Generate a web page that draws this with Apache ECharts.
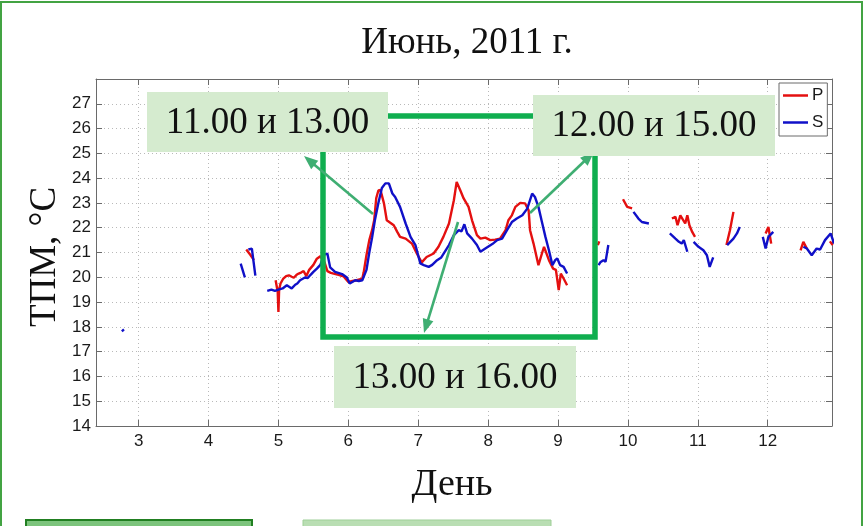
<!DOCTYPE html>
<html>
<head>
<meta charset="utf-8">
<script src="https://cdn.jsdelivr.net/npm/echarts@6/dist/echarts.min.js"></script>
<style>
  html, body { margin: 0; padding: 0; background: #ffffff; }
  #chart { width: 864px; height: 526px; }
</style>
</head>
<body>
<div id="chart"></div>
<script>
// Tick positions of the two axes
const dayTicks = [3, 4, 5, 6, 7, 8, 9, 10, 11, 12];
const tempTicks = [14, 15, 16, 17, 18, 19, 20, 21, 22, 23, 24, 25, 26, 27];

// Series P (red): day of month and temperature; null temperature = gap in record
const pDays = [
  4.54, 4.60, 4.65, 4.80,
  4.96, 4.99, 5.00, 5.01, 5.03, 5.07, 5.11, 5.15, 5.19, 5.22, 5.26, 5.29, 5.33, 5.36, 5.40, 5.44,
  5.50, 5.55, 5.60, 5.66, 5.70, 5.75, 5.79, 5.86, 5.93, 6.00, 6.06, 6.12, 6.20, 6.22, 6.26, 6.30,
  6.34, 6.37, 6.40, 6.43, 6.46, 6.51, 6.55, 6.60, 6.65, 6.70, 6.74, 6.82, 6.91, 6.98, 7.05, 7.12,
  7.22, 7.29, 7.36, 7.44, 7.51, 7.55, 7.60, 7.65, 7.72, 7.77, 7.84, 7.89, 7.96, 8.03, 8.10, 8.17,
  8.25, 8.29, 8.34, 8.39, 8.46, 8.53, 8.58, 8.60, 8.65, 8.72, 8.77, 8.80, 8.87, 8.93, 8.97, 9.01,
  9.04, 9.08, 9.13, 9.30,
  9.57, 9.59, 9.75,
  9.93, 9.99, 10.06, 10.30,
  10.63, 10.68, 10.71, 10.75, 10.82, 10.85, 10.88, 10.92, 10.96, 11.20,
  11.41, 11.46, 11.51, 11.70,
  11.97, 12.01, 12.05, 12.30,
  12.47, 12.51, 12.56, 12.70,
  12.89, 12.93
];
const pTemps = [
  21.12, 20.90, 20.69, null,
  19.88, 19.40, 18.60, 19.50, 19.75, 19.95, 20.05, 20.08, 20.02, 19.98, 20.10, 20.15, 20.20, 20.25, 20.05, 20.30,
  20.50, 20.75, 20.85, 20.60, 20.25, 20.18, 20.15, 20.10, 20.04, 19.81, 19.85, 19.88, 19.95, 20.20, 20.90, 21.50,
  21.90, 22.30, 23.20, 23.50, 23.52, 22.98, 22.30, 22.20, 22.10, 21.83, 21.63, 21.56, 21.36, 20.96, 20.60, 20.82,
  20.96, 21.23, 21.63, 22.17, 23.11, 23.85, 23.52, 23.18, 22.84, 22.30, 21.70, 21.56, 21.60, 21.50, 21.52, 21.56,
  21.90, 22.30, 22.50, 22.84, 23.00, 22.98, 22.70, 21.90, 21.36, 20.49, 20.96, 21.23, 20.69, 20.35, 20.30, 19.48,
  20.15, 19.95, 19.68, null,
  21.30, 21.45, null,
  23.15, 22.84, 22.78, null,
  22.37, 22.44, 22.10, 22.50, 22.17, 22.50, 22.10, 21.83, 21.63, null,
  21.30, 21.90, 22.64, null,
  21.77, 22.03, 21.36, null,
  21.09, 21.43, 21.16, null,
  21.45, 21.30
];

// Series S (blue)
const sDays = [
  2.76, 2.79, 3.50,
  4.46, 4.52, 4.55,
  4.57, 4.62, 4.67, 4.75,
  4.84, 4.90, 4.95, 5.00, 5.06, 5.12, 5.19, 5.24, 5.27, 5.31, 5.38, 5.42, 5.46, 5.50, 5.55, 5.60,
  5.65, 5.70, 5.74, 5.81, 5.91, 5.98, 6.02, 6.10, 6.15, 6.20, 6.22, 6.26, 6.30, 6.34, 6.38, 6.43,
  6.48, 6.53, 6.58, 6.63, 6.67, 6.74, 6.82, 6.89, 6.96, 7.03, 7.08, 7.15, 7.20, 7.27, 7.33, 7.44,
  7.51, 7.58, 7.62, 7.66, 7.70, 7.77, 7.84, 7.89, 7.96, 8.06, 8.13, 8.20, 8.27, 8.34, 8.41, 8.49,
  8.56, 8.63, 8.67, 8.72, 8.77, 8.82, 8.87, 8.92, 8.96, 8.99, 9.03, 9.08, 9.13, 9.40,
  9.58, 9.61, 9.65, 9.68, 9.72, 9.90,
  10.08, 10.15, 10.20, 10.22, 10.30, 10.45,
  10.60, 10.68, 10.73, 10.77, 10.80, 10.85, 10.90,
  10.94, 11.01, 11.08, 11.13, 11.17, 11.22, 11.35,
  11.42, 11.51, 11.56, 11.60, 11.80,
  11.93, 11.97, 12.01, 12.08, 12.30,
  12.51, 12.56, 12.63, 12.70, 12.75, 12.82, 12.90, 12.95
];
const sTemps = [
  17.82, 17.90, null,
  20.55, 20.00, null,
  21.12, 21.16, 20.07, null,
  19.45, 19.50, 19.45, 19.50, 19.55, 19.68, 19.55, 19.70, 19.75, 19.88, 19.99, 19.97, 20.10, 20.22, 20.35, 20.50,
  20.90, 20.96, 20.40, 20.22, 20.13, 19.99, 19.75, 19.88, 19.85, 19.88, 19.95, 20.30, 21.00, 21.60, 22.30, 23.00,
  23.60, 23.79, 23.79, 23.38, 23.24, 22.84, 22.17, 21.63, 21.30, 20.56, 20.49, 20.42, 20.50, 20.69, 20.80, 21.30,
  21.70, 21.90, 21.85, 22.14, 21.77, 21.56, 21.30, 21.03, 21.16, 21.34, 21.50, 21.56, 21.90, 22.23, 22.37, 22.50,
  22.77, 23.38, 23.24, 22.84, 22.23, 21.63, 21.09, 20.49, 20.69, 20.76, 20.49, 20.42, 20.15, null,
  20.49, 20.62, 20.69, 20.62, 21.30, null,
  22.64, 22.37, 22.23, 22.30, 22.17, null,
  21.77, 21.56, 21.43, 21.36, 21.50, 21.03, null,
  21.43, 21.23, 21.09, 20.89, 20.42, 20.80, null,
  21.30, 21.56, 21.77, 22.03, null,
  21.63, 21.16, 21.63, 21.83, null,
  21.23, 21.16, 20.89, 21.16, 21.12, 21.50, 21.77, 21.36
];

function toPairs(days, temps) {
  return days.map((d, i) => [d, temps[i] === null ? '-' : temps[i]]);
}

const chart = echarts.init(document.getElementById('chart'), null, { renderer: 'canvas' });

const frameColor = '#6a6a6a';
const gridDots = { show: true, lineStyle: { color: '#b9b9b9', type: [1, 3], width: 1 } };
const tickFont = { fontFamily: 'Liberation Sans', fontSize: 17, color: '#1a1a1a' };
const serif = 'Liberation Serif';
const boxGreen = '#d5ebcf';
const frameGreen = '#0fae4f';
const arrowGreen = '#3fae72';

function arrow(x1, y1, x2, y2) {
  const dx = x2 - x1, dy = y2 - y1;
  const len = Math.sqrt(dx * dx + dy * dy);
  const ux = dx / len, uy = dy / len;
  const nx = -uy, ny = ux;
  const L = 14, W = 5.5;
  const bx = x2 - ux * L, by = y2 - uy * L;
  return [
    { type: 'line', z: 120, shape: { x1: x1, y1: y1, x2: bx + ux * 2, y2: by + uy * 2 },
      style: { stroke: arrowGreen, lineWidth: 2.6 } },
    { type: 'polygon', z: 120, shape: { points: [[x2, y2], [bx + nx * W, by + ny * W], [bx - nx * W, by - ny * W]] },
      style: { fill: arrowGreen } }
  ];
}

function labelBox(x, y, w, h, text) {
  return {
    type: 'group', z: 130,
    children: [
      { type: 'rect', z: 130, shape: { x: x, y: y, width: w, height: h }, style: { fill: boxGreen } },
      { type: 'text', z: 131, x: x + w / 2, y: y + h / 2 + 1,
        style: { text: text, fontFamily: serif, fontSize: 37, fill: '#111', align: 'center', verticalAlign: 'middle' } }
    ]
  };
}

const option = {
  animation: false,
  backgroundColor: '#ffffff',
  grid: { left: 96, top: 79, right: 32, bottom: 100, containLabel: false },
  xAxis: [
    {
      type: 'value', min: 2.39, max: 12.92, position: 'bottom',
      axisLine: { show: true, onZero: false, lineStyle: { color: frameColor, width: 1 } },
      axisTick: { show: true, inside: true, length: 6, customValues: dayTicks, lineStyle: { color: frameColor } },
      axisLabel: Object.assign({ customValues: dayTicks, margin: 7 }, tickFont),
      splitLine: gridDots
    },
    {
      type: 'value', min: 2.39, max: 12.92, position: 'top',
      axisLine: { show: true, onZero: false, lineStyle: { color: frameColor, width: 1 } },
      axisTick: { show: true, inside: true, length: 6, customValues: dayTicks, lineStyle: { color: frameColor } },
      axisLabel: { show: false },
      splitLine: { show: false }
    }
  ],
  yAxis: [
    {
      type: 'value', min: 14, max: 28, interval: 1, position: 'left',
      axisLine: { show: true, onZero: false, lineStyle: { color: frameColor, width: 1 } },
      axisTick: { show: true, inside: true, length: 6, lineStyle: { color: frameColor } },
      axisLabel: Object.assign({ margin: 5, showMaxLabel: false,
        formatter: v => (tempTicks.indexOf(v) >= 0 ? String(v) : '') }, tickFont),
      splitLine: gridDots
    },
    {
      type: 'value', min: 14, max: 28, interval: 1, position: 'right',
      axisLine: { show: true, onZero: false, lineStyle: { color: frameColor, width: 1 } },
      axisTick: { show: true, inside: true, length: 6, lineStyle: { color: frameColor } },
      axisLabel: { show: false },
      splitLine: { show: false }
    }
  ],
  legend: {
    data: ['P', 'S'], orient: 'vertical', left: 779, top: 83,
    icon: 'rect', itemWidth: 25, itemHeight: 2.5, itemGap: 10,
    padding: [4, 4, 5, 4],
    backgroundColor: '#ffffff', borderColor: '#6a6a6a', borderWidth: 1,
    textStyle: { fontFamily: 'Liberation Sans', fontSize: 17, color: '#1a1a1a', padding: [0, 0, 0, -1] },
    z: 140
  },
  series: [
    {
      name: 'P', type: 'line', data: toPairs(pDays, pTemps), showSymbol: false, symbol: 'none',
      connectNulls: false, color: '#e41010', lineStyle: { color: '#e41010', width: 2.4 }, z: 3
    },
    {
      name: 'S', type: 'line', data: toPairs(sDays, sTemps), showSymbol: false, symbol: 'none',
      connectNulls: false, color: '#1010c8', lineStyle: { color: '#1010c8', width: 2.4 }, z: 4
    }
  ],
  graphic: [].concat(
    [
      // page frame and footer strips
      { type: 'rect', z: 1, shape: { x: 1, y: 2, width: 861, height: 540 },
        style: { fill: null, stroke: '#43a343', lineWidth: 2 } },
      { type: 'rect', z: 1, shape: { x: 26, y: 520, width: 226, height: 10 },
        style: { fill: '#7cc47c', stroke: '#217f21', lineWidth: 2 } },
      { type: 'rect', z: 1, shape: { x: 303, y: 520, width: 248, height: 10 },
        style: { fill: '#b9deb3', stroke: '#9fcf98', lineWidth: 1 } },
      // title and axis names
      { type: 'text', z: 5, x: 467, y: 43,
        style: { text: 'Июнь, 2011 г.', fontFamily: serif, fontSize: 37, fill: '#111', align: 'center', verticalAlign: 'middle' } },
      { type: 'text', z: 5, x: 452, y: 485,
        style: { text: 'День', fontFamily: serif, fontSize: 38, fill: '#111', align: 'center', verticalAlign: 'middle' } },
      { type: 'text', z: 5, x: 45, y: 257, rotation: Math.PI / 2,
        style: { text: 'ТПМ, °С', fontFamily: serif, fontSize: 37, fill: '#111', align: 'center', verticalAlign: 'middle' } },
      // highlighted interval frame
      { type: 'rect', z: 110, shape: { x: 323, y: 116, width: 272, height: 221 },
        style: { fill: null, stroke: frameGreen, lineWidth: 5.5 } }
    ],
    arrow(373, 214, 304, 156),
    arrow(530, 213, 594, 152),
    arrow(458, 222, 424, 333),
    [
      labelBox(147, 92, 241, 60, '11.00 и 13.00'),
      labelBox(533, 95, 242, 61, '12.00 и 15.00'),
      labelBox(334, 346, 242, 62, '13.00 и 16.00')
    ]
  )
};

chart.setOption(option);
</script>
</body>
</html>
